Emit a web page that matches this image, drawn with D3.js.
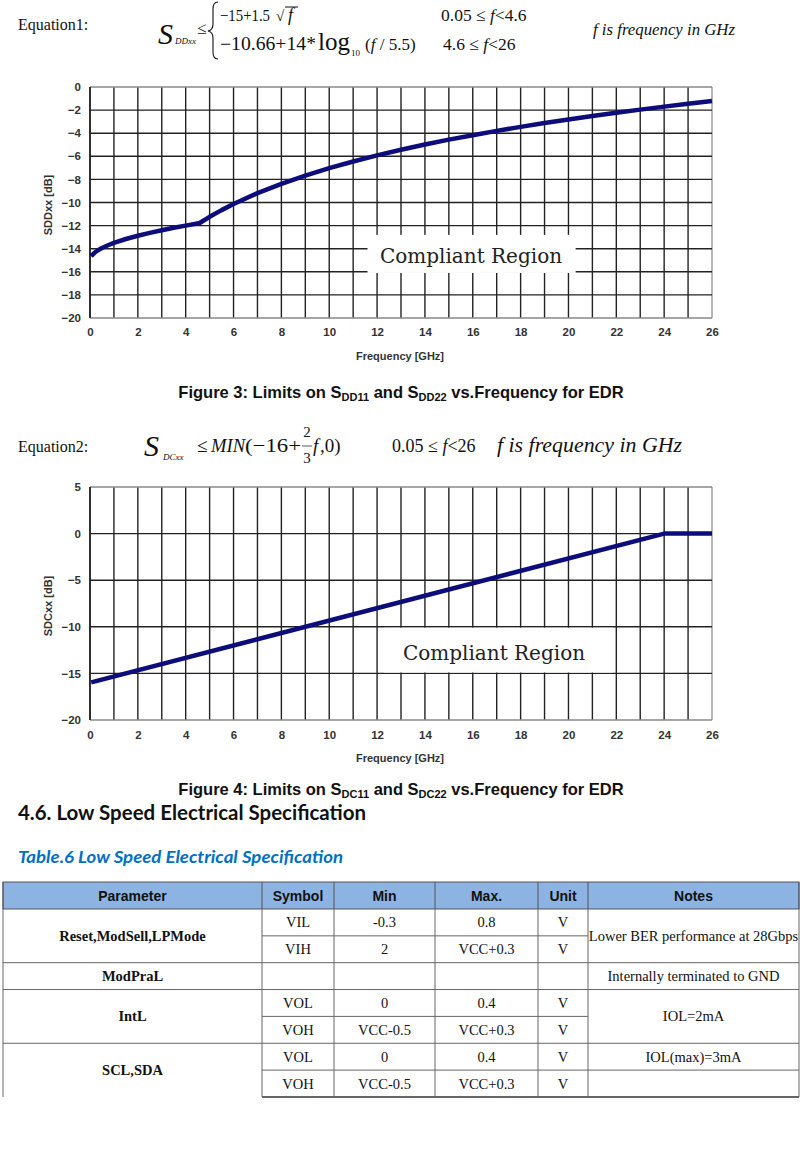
<!DOCTYPE html>
<html>
<head>
<meta charset="utf-8">
<script src="https://cdn.jsdelivr.net/npm/d3@7/dist/d3.min.js"></script>
<style>
  body { margin: 0; background: #fff; }
  svg text { fill: #111; }
  .tick text { font-family: "Liberation Sans", Arial, sans-serif; font-weight: bold; font-size: 11.5px; fill: #333; }
</style>
</head>
<body>
<script>
const W = 800, H = 1172;

// chart 1 : SDDxx limit
const ddFreq  = [0.05, 0.1, 0.2, 0.35, 0.5, 0.75, 1, 1.5, 2, 2.5, 3, 3.5, 4, 4.6,
                 4.6, 5, 5.5, 6, 7, 8, 9, 10, 11, 12, 13, 14, 15, 16, 17, 18, 19, 20, 21, 22, 23, 24, 25, 26];
const ddLimit = [-14.66, -14.53, -14.33, -14.11, -13.94, -13.70, -13.5, -13.16, -12.88, -12.63, -12.40, -12.19, -12.0, -11.78,
                 -11.75, -11.24, -10.66, -10.13, -9.19, -8.38, -7.67, -7.03, -6.45, -5.92, -5.43, -4.98, -4.56, -4.17,
                 -3.80, -3.45, -3.12, -2.81, -2.51, -2.23, -1.96, -1.70, -1.45, -1.22];
const ddYTicks = [0, -2, -4, -6, -8, -10, -12, -14, -16, -18, -20];

// chart 2 : SDCxx limit
const dcFreq  = [0.05, 24, 26];
const dcLimit = [-15.97, 0, 0];
const dcYTicks = [5, 0, -5, -10, -15, -20];

const xTicks = [0, 2, 4, 6, 8, 10, 12, 14, 16, 18, 20, 22, 24, 26];

// table
const tableHeaders = ["Parameter", "Symbol", "Min", "Max.", "Unit", "Notes"];
const paramNames = ["Reset,ModSell,LPMode", "ModPraL", "IntL", "SCL,SDA"];
const paramSpans = [2, 1, 2, 2];
const symbols = ["VIL", "VIH", "", "VOL", "VOH", "VOL", "VOH"];
const minVals = ["-0.3", "2", "", "0", "VCC-0.5", "0", "VCC-0.5"];
const maxVals = ["0.8", "VCC+0.3", "", "0.4", "VCC+0.3", "0.4", "VCC+0.3"];
const units   = ["V", "V", "", "V", "V", "V", "V"];
const notes     = ["Lower BER performance at 28Gbps", "Internally terminated to GND", "IOL=2mA", "IOL(max)=3mA", ""];
const noteSpans = [2, 1, 2, 1, 1];

const svg = d3.select("body").append("svg")
  .attr("width", W).attr("height", H);

const serif = "Liberation Serif, Times New Roman, serif";
const sans = "Liberation Sans, Arial, sans-serif";

// ---------- charts ----------
function drawChart(cfg) {
  const x = d3.scaleLinear().domain([0, 26]).range([90, 712]);
  const y = d3.scaleLinear().domain(cfg.yDomain).range([cfg.bottom, cfg.top]);
  const g = svg.append("g");

  // vertical grid every 1 GHz
  g.selectAll(".vg").data(d3.range(0, 27)).enter().append("line")
    .attr("x1", d => x(d)).attr("x2", d => x(d))
    .attr("y1", y.range()[1]).attr("y2", y.range()[0])
    .attr("stroke", d => d == 26 ? "#999" : "#222").attr("stroke-width", 1.4);
  g.selectAll(".hg").data(cfg.yTicks).enter().append("line")
    .attr("x1", x(0)).attr("x2", x(26))
    .attr("y1", d => y(d)).attr("y2", d => y(d))
    .attr("stroke", (d, i) => (i == 0 || i == cfg.yTicks.length - 1) ? "#888" : "#222")
    .attr("stroke-width", 1.4);
  g.append("line").attr("x1", x(0)).attr("x2", x(0))
    .attr("y1", y.range()[1]).attr("y2", y.range()[0])
    .attr("stroke", "#222").attr("stroke-width", 1.6);

  // white label box
  g.append("rect")
    .attr("x", x(cfg.box[0])).attr("width", x(cfg.box[1]) - x(cfg.box[0]))
    .attr("y", y(cfg.box[2])).attr("height", y(cfg.box[3]) - y(cfg.box[2]))
    .attr("fill", "#fff");
  g.append("text")
    .attr("x", cfg.labelX).attr("y", cfg.labelY)
    .attr("text-anchor", "middle")
    .style("font-family", "DejaVu Serif, serif").style("font-size", "20px").style("fill", "#222")
    .text("Compliant Region");

  g.append("g").attr("transform", "translate(" + x(0) + ",0)")
    .call(d3.axisLeft(y).tickValues(cfg.yTicks).tickSize(0).tickPadding(9).tickFormat(d3.format("d")))
    .call(a => a.select(".domain").remove());
  g.append("g").attr("transform", "translate(0," + cfg.bottom + ")")
    .call(d3.axisBottom(x).tickValues(xTicks).tickSize(0).tickPadding(cfg.xPad))
    .call(a => a.select(".domain").remove());

  g.append("text").attr("x", 400).attr("y", cfg.bottom + 42)
    .attr("text-anchor", "middle")
    .style("font-family", sans).style("font-weight", "bold")
    .style("font-size", "11px").style("fill", "#333")
    .text("Frequency [GHz]");
  g.append("text")
    .attr("transform", "translate(52," + cfg.yLabelY + ") rotate(-90)")
    .attr("text-anchor", "middle")
    .style("font-family", sans).style("font-weight", "bold")
    .style("font-size", "11px").style("fill", "#333")
    .text(cfg.yLabel);

  g.append("path")
    .datum(d3.zip(cfg.freq, cfg.limit))
    .attr("fill", "none").attr("stroke", "#0c0c7a").attr("stroke-width", 4.5)
    .attr("stroke-linejoin", "round")
    .attr("d", d3.line().x(d => x(d[0])).y(d => y(d[1])));
}

drawChart({ yDomain: [-20, 0], top: 87, bottom: 318, yTicks: ddYTicks,
  freq: ddFreq, limit: ddLimit, box: [11.6, 20.3, -12.8, -16.1],
  labelX: 471, labelY: 263, xPad: 10, yLabel: "SDDxx [dB]", yLabelY: 205 });
drawChart({ yDomain: [-20, 5], top: 487, bottom: 720, yTicks: dcYTicks,
  freq: dcFreq, limit: dcLimit, box: [12.3, 21.85, -10.1, -14.9],
  labelX: 494, labelY: 660, xPad: 11, yLabel: "SDCxx [dB]", yLabelY: 606 });

// ---------- equations ----------
function txt(x, y, s, size, opts) {
  opts = opts || {};
  const t = svg.append("text").attr("x", x).attr("y", y)
    .style("font-family", serif).style("font-size", size + "px")
    .style("font-style", opts.italic ? "italic" : "normal")
    .attr("text-anchor", opts.anchor || "start");
  if (opts.html) t.html(s); else t.text(s);
  if (opts.len) t.attr("textLength", opts.len).attr("lengthAdjust", "spacingAndGlyphs");
  return t;
}
txt(18, 30, "Equation1:", 16);
txt(158, 44, "S", 30, { italic: true });
txt(175, 44, "DDxx", 9, { italic: true });
txt(197, 34, "≤", 17);
svg.append("path")
  .attr("d", "M218,2 Q213,2 213,9 L213,24 Q213,30 208,31 Q213,32 213,38 L213,52 Q213,59 218,59")
  .attr("fill", "none").attr("stroke", "#111").attr("stroke-width", 1.1);
txt(220, 21, "−15+1.5", 17, { len: 50 });
txt(276, 21, "√", 15);
svg.append("line").attr("x1", 285).attr("x2", 298).attr("y1", 7).attr("y2", 7)
  .attr("stroke", "#111").attr("stroke-width", 1);
txt(288, 21, "f", 18, { italic: true });
txt(441, 21, '0.05 ≤ <tspan font-style="italic">f</tspan>&lt;4.6', 17.5, { html: true });
txt(220, 50, "−10.66+14*", 18, { len: 96 });
txt(318, 50, "log", 25);
txt(351, 56, "10", 9);
txt(365, 50, '(<tspan font-style="italic">f</tspan> / 5.5)', 17, { html: true });
txt(443, 50, '4.6 ≤ <tspan font-style="italic">f</tspan>&lt;26', 17.5, { html: true });
txt(593, 35, "f  is  frequency in GHz", 17, { italic: true, len: 142 });

txt(18, 452, "Equation2:", 16);
txt(144, 456, "S", 30, { italic: true });
txt(163, 460, "DCxx", 9, { italic: true });
txt(197, 452, "≤", 19);
txt(211, 452, "MIN", 19, { italic: true, len: 34 });
txt(245, 452, "(−16+", 19, { len: 56 });
txt(307, 437, "2", 15, { anchor: "middle" });
svg.append("line").attr("x1", 302).attr("x2", 312).attr("y1", 446).attr("y2", 446)
  .attr("stroke", "#111").attr("stroke-width", 0.7);
txt(307, 463, "3", 15, { anchor: "middle" });
txt(313, 452, "f", 19, { italic: true });
txt(320, 452, ",0)", 19);
txt(392, 452, '0.05 ≤ <tspan font-style="italic">f</tspan>&lt;26', 18, { html: true });
txt(497, 452, "f  is  frequency in GHz", 20, { italic: true, len: 185 });

// ---------- captions / headings ----------
function caption(y, a, b) {
  const t = svg.append("text").attr("x", 401).attr("y", y).attr("text-anchor", "middle")
    .style("font-family", sans).style("font-weight", "bold")
    .style("font-size", "16.5px");
  t.append("tspan").text(a[0]);
  t.append("tspan").attr("dy", 3).style("font-size", "11px").text(a[1]);
  t.append("tspan").attr("dy", -3).text(" and S");
  t.append("tspan").attr("dy", 3).style("font-size", "11px").text(b);
  t.append("tspan").attr("dy", -3).text(" vs.Frequency for EDR");
}
caption(398, ["Figure 3: Limits on S", "DD11"], "DD22");
caption(795, ["Figure 4: Limits on S", "DC11"], "DC22");

svg.append("text").attr("x", 18).attr("y", 820)
  .style("font-family", "Lato, sans-serif").style("font-weight", "bold").style("font-size", "21px")
  .attr("textLength", 348).attr("lengthAdjust", "spacingAndGlyphs")
  .text("4.6. Low Speed Electrical Specification");
svg.append("text").attr("x", 18).attr("y", 863)
  .style("font-family", "Lato, sans-serif").style("font-weight", "bold").style("font-style", "italic")
  .style("font-size", "17.5px").style("fill", "#0070c0")
  .attr("textLength", 325).attr("lengthAdjust", "spacingAndGlyphs")
  .text("Table.6 Low Speed Electrical Specification");

// ---------- table ----------
const colX = [3, 262, 334, 435, 538, 588, 799];
const headTop = 882, headBot = 909, rowH = 26.85;
const rowY = i => headBot + i * rowH;
const nRows = symbols.length;
const lineC = "#666";
const tg = svg.append("g");

tg.append("rect").attr("x", colX[0]).attr("y", headTop)
  .attr("width", colX[6] - colX[0]).attr("height", headBot - headTop)
  .attr("fill", "#8db3e2").attr("stroke", "#555").attr("stroke-width", 1);
tg.selectAll(".hd").data(tableHeaders).enter().append("text")
  .attr("x", (d, i) => (colX[i] + colX[i + 1]) / 2).attr("y", headTop + 19)
  .attr("text-anchor", "middle")
  .style("font-family", sans).style("font-weight", "bold").style("font-size", "14px")
  .text(d => d);
tg.selectAll(".hv").data(colX).enter().append("line")
  .attr("x1", d => d).attr("x2", d => d).attr("y1", headTop).attr("y2", headBot)
  .attr("stroke", "#555");

function hline(x1, x2, yy, w) {
  tg.append("line").attr("x1", x1).attr("x2", x2).attr("y1", yy).attr("y2", yy)
    .attr("stroke", lineC).attr("stroke-width", w || 1);
}
function vline(xx, y1, y2) {
  tg.append("line").attr("x1", xx).attr("x2", xx).attr("y1", y1).attr("y2", y2)
    .attr("stroke", lineC).attr("stroke-width", 1);
}
function cellText(xa, xb, ya, yb, s, bold) {
  tg.append("text").attr("x", (xa + xb) / 2).attr("y", (ya + yb) / 2 + 5)
    .attr("text-anchor", "middle")
    .style("font-family", serif).style("font-size", "14.5px")
    .style("font-weight", bold ? "bold" : "normal")
    .text(s);
}

colX.forEach(cx => vline(cx, headBot, rowY(nRows)));

let r = 0;
paramNames.forEach((p, i) => {
  const ya = rowY(r), yb = rowY(r + paramSpans[i]);
  cellText(colX[0], colX[1], ya, yb, p, true);
  if (i > 0) hline(colX[0], colX[1], ya);
  r += paramSpans[i];
});
const midCols = [symbols, minVals, maxVals, units];
for (let i = 0; i < nRows; i++) {
  if (i > 0) hline(colX[1], colX[5], rowY(i));
  midCols.forEach((col, c) => cellText(colX[c + 1], colX[c + 2], rowY(i), rowY(i + 1), col[i], false));
}
r = 0;
notes.forEach((n, i) => {
  const ya = rowY(r), yb = rowY(r + noteSpans[i]);
  if (i > 0) hline(colX[5], colX[6], ya);
  cellText(colX[5], colX[6], ya, yb, n, false);
  r += noteSpans[i];
});
hline(colX[1], colX[6], rowY(nRows), 2);
</script>
</body>
</html>
